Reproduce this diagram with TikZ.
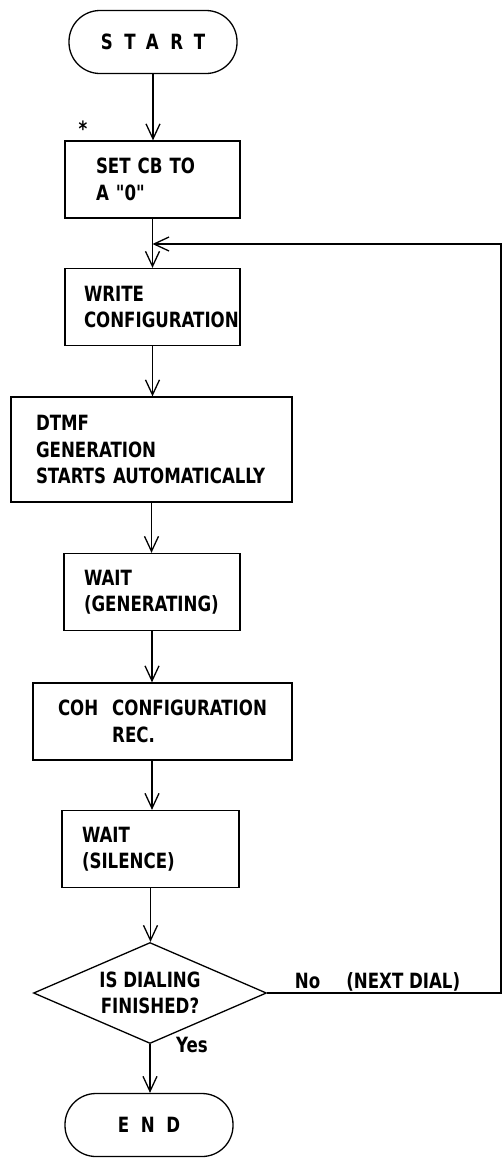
\documentclass[tikz,border=0pt]{standalone}
\usepackage{fontspec}
\newfontfamily\chartfam{DejaVu Sans Condensed}[FakeStretch=0.88]
\usetikzlibrary{arrows.meta,shapes.geometric}
\hyphenpenalty=10000
\newcommand{\chartfont}{\chartfam\fontsize{21}{26.5}\selectfont\bfseries}

\begin{document}
\begin{tikzpicture}[x=1pt,y=-1pt,line width=1.3pt,
  flow/.style={-{Straight Barb[length=15pt,width=14pt]}},
  proc/.style={draw, rectangle, align=left, font=\chartfont, minimum height=77pt},
  term/.style={draw, rectangle, rounded corners=31pt, minimum width=168pt,
    minimum height=63pt, font=\chartfont\addfontfeature{LetterSpace=55}},
  decide/.style={draw, diamond, aspect=2.3, align=center, font=\chartfont,
    minimum width=233pt, minimum height=101pt, inner sep=0pt},
  note/.style={font=\chartfont}]

  % Fix the page to the size of the reference
  \useasboundingbox (0,0) rectangle (503,1160);

  % Start and first step
  \node[term] (start) at (153,42) {START};
  \node[note] (star) at (83,129) {*};
  \node[proc, text width=113pt, inner xsep=31pt] (set) at (152.5,179.5) {SET CB TO\\A "0"};

  % The loop comes back in here
  \coordinate (loop) at (152.5,244);
  \coordinate (corner) at (501,244);

  % Steps of one dial
  \node[proc, text width=137pt, inner xsep=19pt] (write) at (152.5,307) {WRITE\\CONFIGURATION};
  \node[proc, text width=231pt, inner xsep=25pt, minimum height=105pt] (dtmf) at (151.5,449.5)
    {DTMF\\GENERATION\\STARTS AUTOMATICALLY};
  \node[proc, text width=136pt, inner xsep=20pt] (waitgen) at (152,592) {WAIT\\(GENERATING)};
  \node[proc, text width=209pt, inner xsep=25pt] (coh) at (162.5,721.5)
    {COH\hspace{14pt}CONFIGURATION\\\phantom{COH}\hspace{14pt}REC.};
  \node[proc, text width=137pt, inner xsep=20pt] (waitsil) at (150.5,849) {WAIT\\(SILENCE)};

  % Decision and end
  \node[decide] (dec) at (150,993) {IS DIALING\\FINISHED?};
  \node[term] (end) at (149,1125) {END};

  % Labels of the two exits
  \node[note, anchor=west] (no) at (291,982) {No\hspace{26pt}(NEXT DIAL)};
  \node[note] (yes) at (192,1045) {Yes};

  % Arrows down the chart
  \draw[flow] (start.south) -- (start.south |- set.north);
  \draw[flow] (set.south) -- (set.south |- write.north);
  \draw[flow] (write.south) -- (write.south |- dtmf.north);
  \draw[flow] (dtmf.south) -- (dtmf.south |- waitgen.north);
  \draw[flow] (waitgen.south) -- (waitgen.south |- coh.north);
  \draw[flow] (waitgen.south |- coh.south) -- (waitgen.south |- waitsil.north);
  \draw[flow] (waitsil.south) -- (waitsil.south |- dec.north);
  \draw[flow] (dec.south) -- (dec.south |- end.north);

  % Back to the next dial
  \draw[flow] (dec.east) -| (corner) -- (loop);

\end{tikzpicture}
\end{document}
